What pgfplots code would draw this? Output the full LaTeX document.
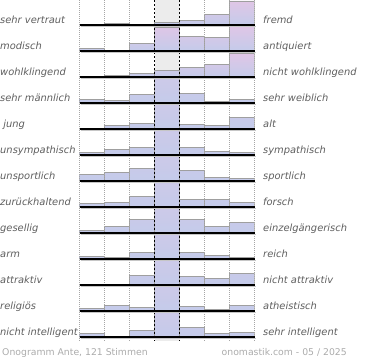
\documentclass[border=0pt]{standalone}
\usepackage{fontspec}
\setmainfont{DejaVu Sans}
\usepackage{pgfplots}
\pgfplotsset{compat=1.18}
\definecolor{barblue}{HTML}{C4CBEA}
\definecolor{barpink}{HTML}{E0C6E6}
\definecolor{labgray}{HTML}{5E5E5E}
\definecolor{footgray}{HTML}{ABABAB}
\definecolor{bggray}{HTML}{ECECEC}
\pgfplotsset{
  rowax/.style={scale only axis, width=175pt, height=26pt,
    xmin=0, xmax=7, ymin=0, ymax=26, axis lines=none, ticks=none,
    clip=true, anchor=south west},
  bars/.style={ybar, bar width=25pt, bar shift=0pt, draw=gray!75, line width=0.5pt,
    bottom color=barblue, top color=barpink},
}
\begin{document}
\begin{tikzpicture}[x=1pt,y=1pt]
\useasboundingbox (0,0) rectangle (370,360);
% centre column background
\fill[bggray] (154.5,360) rectangle (179.5,19);
% rows
\begin{axis}[rowax, at={(79.5pt,335pt)}]
\addplot[bars] coordinates {(0.5,0) (1.5,1.3) (2.5,0.3) (3.5,2.7) (4.5,4.3) (5.5,10.7) (6.5,24)};
\end{axis}
\begin{axis}[rowax, at={(79.5pt,309pt)}]
\addplot[bars] coordinates {(0.5,2.3) (1.5,0) (2.5,7.7) (3.5,24) (4.5,14.7) (5.5,13.3) (6.5,25.5)};
\end{axis}
\begin{axis}[rowax, at={(79.5pt,283pt)}]
\addplot[bars] coordinates {(0.5,0) (1.5,2) (2.5,4) (3.5,7) (4.5,10) (5.5,13) (6.5,24)};
\end{axis}
\begin{axis}[rowax, at={(79.5pt,257pt)}]
\addplot[bars] coordinates {(0.5,4) (1.5,3) (2.5,9) (3.5,80) (4.5,9.3) (5.5,2) (6.5,4)};
\end{axis}
\begin{axis}[rowax, at={(79.5pt,231pt)}]
\addplot[bars] coordinates {(0.5,1) (1.5,4) (2.5,6) (3.5,80) (4.5,5) (5.5,4) (6.5,12)};
\end{axis}
\begin{axis}[rowax, at={(79.5pt,205pt)}]
\addplot[bars] coordinates {(0.5,3) (1.5,5.7) (2.5,7.7) (3.5,80) (4.5,7.7) (5.5,3.7) (6.5,2.3)};
\end{axis}
\begin{axis}[rowax, at={(79.5pt,179pt)}]
\addplot[bars] coordinates {(0.5,6.3) (1.5,8.3) (2.5,12.3) (3.5,80) (4.5,10.3) (5.5,4) (6.5,3)};
\end{axis}
\begin{axis}[rowax, at={(79.5pt,153pt)}]
\addplot[bars] coordinates {(0.5,3.7) (1.5,4.7) (2.5,11) (3.5,80) (4.5,7.3) (5.5,8) (6.5,5)};
\end{axis}
\begin{axis}[rowax, at={(79.5pt,127pt)}]
\addplot[bars] coordinates {(0.5,2.3) (1.5,6.3) (2.5,13.3) (3.5,80) (4.5,13.3) (5.5,6.3) (6.5,10.3)};
\end{axis}
\begin{axis}[rowax, at={(79.5pt,101pt)}]
\addplot[bars] coordinates {(0.5,3) (1.5,1.3) (2.5,6.3) (3.5,80) (4.5,6.3) (5.5,3.3) (6.5,1.3)};
\end{axis}
\begin{axis}[rowax, at={(79.5pt,75pt)}]
\addplot[bars] coordinates {(0.5,1) (1.5,1) (2.5,10) (3.5,80) (4.5,9) (5.5,7) (6.5,12)};
\end{axis}
\begin{axis}[rowax, at={(79.5pt,49pt)}]
\addplot[bars] coordinates {(0.5,2.3) (1.5,6) (2.5,3.7) (3.5,80) (4.5,4.7) (5.5,1.7) (6.5,5.7)};
\end{axis}
\begin{axis}[rowax, at={(79.5pt,23pt)}]
\addplot[bars] coordinates {(0.5,3.3) (1.5,0) (2.5,7) (3.5,80) (4.5,9.3) (5.5,3.3) (6.5,4.3)};
\end{axis}
% grid lines
\foreach \gx in {79.5,104.5,129.5,204.5,229.5,254.5}
  \draw[gray!70, line width=0.5pt, dash pattern=on 1pt off 1pt] (\gx,360) -- (\gx,19);
\foreach \gx in {154.5,179.5}
  \draw[black, line width=0.8pt, dash pattern=on 2pt off 2pt] (\gx,360) -- (\gx,19);
% baselines and labels
\foreach \yb/\l/\r in {25/sehr vertraut/fremd, 51/modisch/antiquiert, 77/wohlklingend/nicht wohlklingend,
  103/sehr männlich/sehr weiblich, 129/\ jung/alt, 155/unsympathisch/sympathisch,
  181/unsportlich/sportlich, 207/zurückhaltend/forsch, 233/gesellig/einzelgängerisch,
  259/arm/reich, 285/attraktiv/nicht attraktiv, 311/religiös/atheistisch,
  337/nicht intelligent/sehr intelligent}{
  \draw[gray!45, line width=1pt] (80.5,{360-\yb-1.6}) -- (256,{360-\yb-1.6});
  \draw[black, line width=1.3pt] (79.5,{360-\yb}) -- (254.5,{360-\yb});
  \node[anchor=base west, inner sep=0pt, text=labgray, font=\fontsize{9.9pt}{11pt}\selectfont\itshape] at (0,{360-\yb+1.2}) {\l};
  \node[anchor=base west, inner sep=0pt, text=labgray, font=\fontsize{9.9pt}{11pt}\selectfont\itshape] at (263,{360-\yb+1.2}) {\r};
}
\node[anchor=base west, inner sep=0pt, text=footgray, font=\fontsize{9.3pt}{11pt}\selectfont] at (2,4.5) {Onogramm Ante, 121 Stimmen};
\node[anchor=base east, inner sep=0pt, text=footgray, font=\fontsize{9.3pt}{11pt}\selectfont] at (347,4.5) {onomastik.com - 05 / 2025};
\end{tikzpicture}
\end{document}
